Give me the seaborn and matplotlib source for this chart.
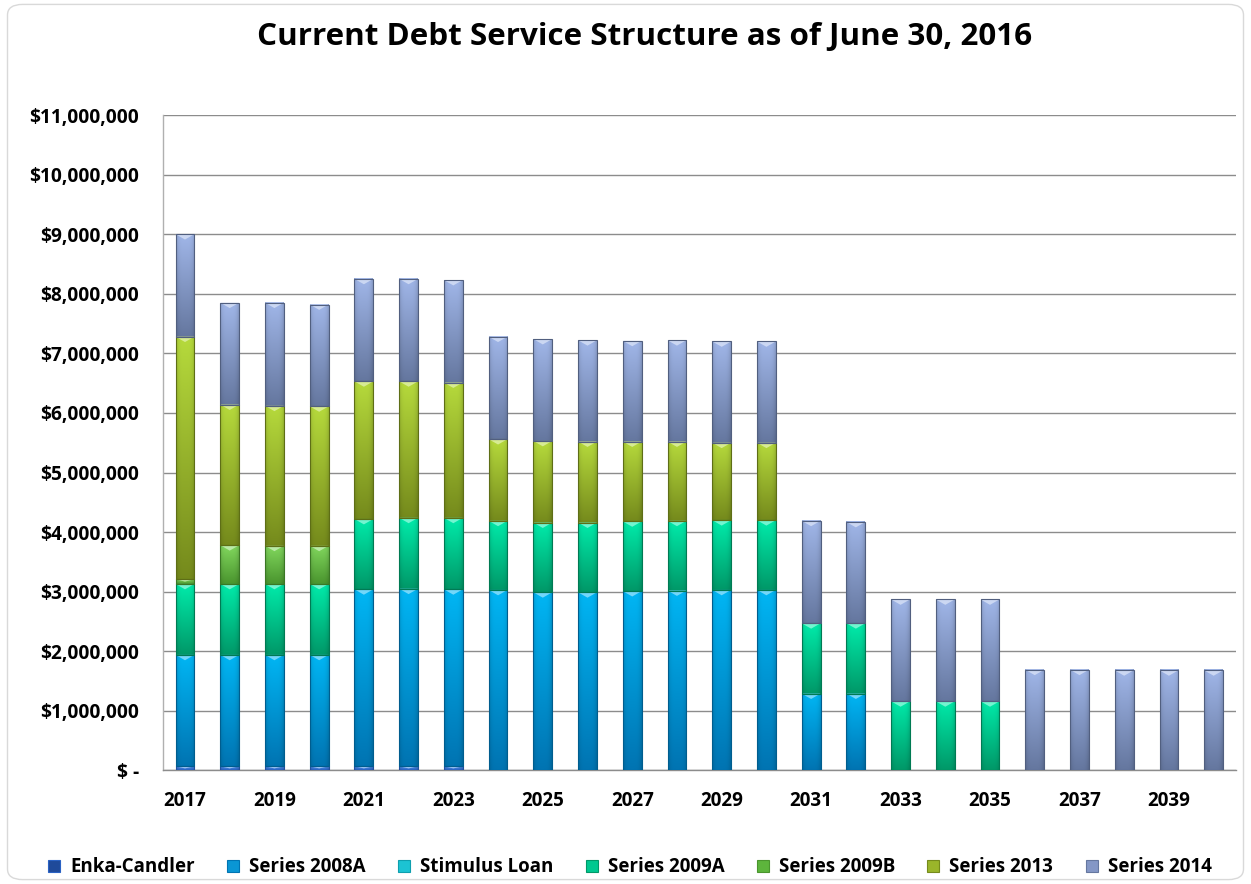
import numpy as np
import pandas as pd
import matplotlib
matplotlib.use("Agg")
import matplotlib.pyplot as plt
import seaborn as sns
from matplotlib.colors import to_rgb
from matplotlib.patches import FancyBboxPatch, Polygon
from matplotlib.lines import Line2D
from matplotlib.ticker import FuncFormatter, FixedLocator

# Annual debt service by fiscal year (dollars)
years = list(range(2017, 2041))
enka_candler = [70000] * 7 + [0] * 17
series_2008a = [1870000, 1870000, 1870000, 1870000, 2970000, 2980000, 2970000,
                3030000, 2990000, 2990000, 3010000, 3020000, 3030000, 3030000,
                1290000, 1290000] + [0] * 8
stimulus_loan = [0] * 24
series_2009a = [1190000, 1190000, 1190000, 1190000, 1180000, 1190000, 1200000,
                1160000, 1170000, 1170000, 1170000, 1170000, 1170000, 1170000,
                1180000, 1180000, 1160000, 1160000, 1160000] + [0] * 5
series_2009b = [80000, 650000, 640000, 640000] + [0] * 20
series_2013 = [4070000, 2360000, 2350000, 2340000, 2310000, 2290000, 2270000,
               1370000, 1370000, 1360000, 1340000, 1330000, 1300000, 1300000] + [0] * 10
series_2014 = [1720000, 1710000, 1730000, 1710000, 1720000, 1720000, 1720000,
               1720000, 1710000, 1700000, 1690000, 1700000, 1700000, 1700000,
               1720000, 1700000, 1710000, 1710000, 1710000, 1690000, 1690000,
               1680000, 1680000, 1680000]

series_names = ["Enka-Candler", "Series 2008A", "Stimulus Loan", "Series 2009A",
                "Series 2009B", "Series 2013", "Series 2014"]
series_values = [enka_candler, series_2008a, stimulus_loan, series_2009a,
                 series_2009b, series_2013, series_2014]

# base, light (top) and dark (bottom) shades per series
base_colors = ["#1F4A9A", "#0A96D4", "#1CC3D3", "#00C890", "#5DB53C", "#9AB52A", "#8497C6"]
top_colors = ["#5AA2F2", "#00B6F4", "#45E2F0", "#00EBAA", "#82D85E", "#B6DA3C", "#A0B6E8"]
bottom_colors = ["#2A62C4", "#0074B2", "#0E9FAE", "#009868", "#4A952E", "#758A1C", "#65779F"]

rows = []
for name, vals in zip(series_names, series_values):
    for yr, v in zip(years, vals):
        if v > 0:
            rows.append({"year": yr, "series": name, "amount": v})
df = pd.DataFrame(rows)

sns.set_style("white")
plt.rcParams["font.family"] = ["Open Sans", "DejaVu Sans"]
plt.rcParams["text.color"] = "black"
plt.rcParams["xtick.color"] = "black"
plt.rcParams["ytick.color"] = "black"

fig = plt.figure(figsize=(12.51, 8.84), dpi=100)
ax = fig.add_axes([0.130, 0.1284, 0.858, 0.7415])

palette = dict(zip(series_names, base_colors))
sns.histplot(data=df, x="year", weights="amount", hue="series",
             hue_order=series_names[::-1], multiple="stack", discrete=True,
             shrink=0.42, palette=palette, alpha=1, linewidth=0,
             legend=False, ax=ax)

# shade each stacked segment with a vertical gradient and a bevelled top
lookup = {tuple(np.round(to_rgb(c), 3)): i for i, c in enumerate(base_colors)}
for p in list(ax.patches):
    h = p.get_height()
    if h <= 0:
        p.set_visible(False)
        continue
    idx = lookup.get(tuple(np.round(p.get_facecolor()[:3], 3)))
    if idx is None:
        continue
    x0, y0, w = p.get_x(), p.get_y(), p.get_width()
    top = np.array(to_rgb(top_colors[idx]))
    bot = np.array(to_rgb(bottom_colors[idx]))
    n = 64
    t = np.linspace(0, 1, n)[:, None]
    col = (1 - t)[..., None] * top + t[..., None] * bot
    xs = np.linspace(-1, 1, 16)
    edge = 1 - 0.12 * xs ** 4
    img = np.clip(col * edge[None, :, None], 0, 1)
    ax.imshow(img, extent=(x0, x0 + w, y0, y0 + h), aspect="auto",
              origin="upper", interpolation="bilinear", zorder=3)
    d = min(0.09e6, h * 0.5)
    bevel = np.clip(top * 0.55 + 0.45, 0, 1)
    ax.add_patch(Polygon([(x0, y0 + h), (x0 + w, y0 + h), (x0 + w * 0.5, y0 + h - d)],
                         closed=True, facecolor=bevel, edgecolor="none", zorder=4))
    p.set_facecolor("none")
    p.set_edgecolor(bot * 0.8)
    p.set_linewidth(0.8)
    p.set_zorder(5)

ax.set_xlim(2016.5, 2040.5)
ax.set_ylim(0, 11e6)
ax.set_axisbelow(True)

ax.yaxis.set_major_locator(FixedLocator(np.arange(0, 11e6 + 1, 1e6)))
ax.yaxis.set_major_formatter(FuncFormatter(lambda v, _: "$ -" if v == 0 else f"${v:,.0f}"))
ax.grid(axis="y", color="#8C8C8C", linewidth=1)
ax.grid(axis="x", visible=False)

ax.xaxis.set_major_locator(FixedLocator(years[::2]))
ax.xaxis.set_major_formatter(FuncFormatter(lambda v, _: f"{int(v)}"))
ax.xaxis.set_minor_locator(FixedLocator(np.arange(2016.5, 2041, 1)))
ax.tick_params(axis="x", which="major", length=0, pad=15, labelsize=13.5)
ax.tick_params(axis="x", which="minor", length=7, color="#8C8C8C", width=1, direction="out")
ax.tick_params(axis="y", which="major", length=6, color="#8C8C8C", width=1, pad=11, labelsize=13.8)
for lbl in ax.get_xticklabels() + ax.get_yticklabels():
    lbl.set_fontweight("bold")

ax.set_xlabel("")
ax.set_ylabel("")
for side in ["top", "right"]:
    ax.spines[side].set_visible(False)
ax.spines["left"].set_color("#B0B0B0")
ax.spines["bottom"].set_color("#8C8C8C")
ax.spines["left"].set_linewidth(1)
ax.spines["bottom"].set_linewidth(1)

fig.text(0.515, 0.958, "Current Debt Service Structure as of June 30, 2016",
         ha="center", va="center", fontsize=22.6, fontweight="bold", color="black")

handles = [Line2D([], [], marker="s", linestyle="", markersize=8,
                  markerfacecolor=c, markeredgecolor=b, markeredgewidth=0.8)
           for c, b in zip(base_colors, bottom_colors)]
fig.legend(handles, series_names, loc="center", bbox_to_anchor=(0.502, 0.019),
           ncol=7, frameon=False, handletextpad=0.35, columnspacing=1.55,
           handlelength=1.0, prop={"weight": "bold", "size": 13.5})

fig.patches.append(FancyBboxPatch((0.006, 0.005), 0.988, 0.99,
                                  boxstyle="round,pad=0,rounding_size=0.012",
                                  transform=fig.transFigure, fill=False,
                                  edgecolor="#D9D9D9", linewidth=1))

fig.savefig("out.png", dpi=100)
